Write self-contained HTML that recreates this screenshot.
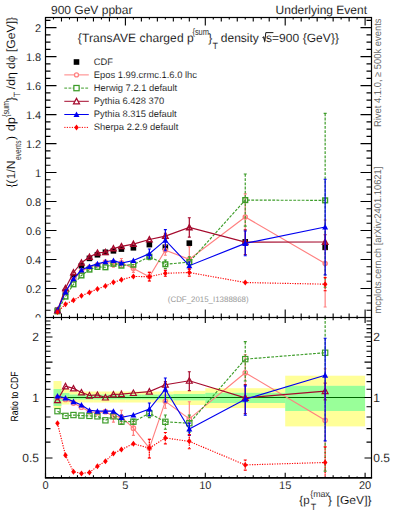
<!DOCTYPE html>
<html><head><meta charset="utf-8"><style>html,body{margin:0;padding:0;background:#fff;width:393px;height:512px;overflow:hidden}</style></head>
<body>
<svg width="393" height="512" viewBox="0 0 393 512" style="display:block" text-rendering="geometricPrecision">
<rect width="393" height="512" fill="#fff"/>
<defs><clipPath id="cm"><rect x="45.5" y="17.5" width="326.0" height="300.0"/></clipPath><clipPath id="c0"><rect x="0" y="0" width="45" height="317.5"/></clipPath><clipPath id="cr"><rect x="45.5" y="317.5" width="326.0" height="160.3"/></clipPath></defs>
<g clip-path="url(#cr)">
<line x1="45.5" y1="397.50" x2="371.5" y2="397.50" stroke="#000" stroke-width="1.0"/>
<rect x="53.49" y="381" width="7.99" height="8.00" fill="#ffff00" fill-opacity="0.4"/>
<rect x="53.49" y="406" width="7.99" height="2.00" fill="#ffff00" fill-opacity="0.4"/>
<rect x="53.49" y="389" width="7.99" height="17.00" fill="#00ff00" fill-opacity="0.4"/>
<rect x="61.48" y="389" width="7.99" height="4.00" fill="#ffff00" fill-opacity="0.4"/>
<rect x="61.48" y="401" width="7.99" height="3.50" fill="#ffff00" fill-opacity="0.4"/>
<rect x="61.48" y="393" width="7.99" height="8.00" fill="#00ff00" fill-opacity="0.4"/>
<rect x="69.47" y="391.5" width="7.99" height="3.00" fill="#ffff00" fill-opacity="0.4"/>
<rect x="69.47" y="399.5" width="7.99" height="3.00" fill="#ffff00" fill-opacity="0.4"/>
<rect x="69.47" y="394.5" width="7.99" height="5.00" fill="#00ff00" fill-opacity="0.4"/>
<rect x="77.46" y="391.5" width="7.99" height="3.00" fill="#ffff00" fill-opacity="0.4"/>
<rect x="77.46" y="399.5" width="7.99" height="3.00" fill="#ffff00" fill-opacity="0.4"/>
<rect x="77.46" y="394.5" width="7.99" height="5.00" fill="#00ff00" fill-opacity="0.4"/>
<rect x="85.45" y="391.5" width="7.99" height="3.00" fill="#ffff00" fill-opacity="0.4"/>
<rect x="85.45" y="399.5" width="7.99" height="3.00" fill="#ffff00" fill-opacity="0.4"/>
<rect x="85.45" y="394.5" width="7.99" height="5.00" fill="#00ff00" fill-opacity="0.4"/>
<rect x="93.44" y="391.5" width="7.99" height="3.00" fill="#ffff00" fill-opacity="0.4"/>
<rect x="93.44" y="399.5" width="7.99" height="3.00" fill="#ffff00" fill-opacity="0.4"/>
<rect x="93.44" y="394.5" width="7.99" height="5.00" fill="#00ff00" fill-opacity="0.4"/>
<rect x="101.43" y="391.5" width="7.99" height="3.00" fill="#ffff00" fill-opacity="0.4"/>
<rect x="101.43" y="399.5" width="7.99" height="3.00" fill="#ffff00" fill-opacity="0.4"/>
<rect x="101.43" y="394.5" width="7.99" height="5.00" fill="#00ff00" fill-opacity="0.4"/>
<rect x="109.42" y="391.5" width="7.99" height="3.00" fill="#ffff00" fill-opacity="0.4"/>
<rect x="109.42" y="399.5" width="7.99" height="3.00" fill="#ffff00" fill-opacity="0.4"/>
<rect x="109.42" y="394.5" width="7.99" height="5.00" fill="#00ff00" fill-opacity="0.4"/>
<rect x="117.41" y="391.5" width="7.99" height="3.00" fill="#ffff00" fill-opacity="0.4"/>
<rect x="117.41" y="399.5" width="7.99" height="3.00" fill="#ffff00" fill-opacity="0.4"/>
<rect x="117.41" y="394.5" width="7.99" height="5.00" fill="#00ff00" fill-opacity="0.4"/>
<rect x="125.40" y="391.5" width="15.98" height="3.00" fill="#ffff00" fill-opacity="0.4"/>
<rect x="125.40" y="399.5" width="15.98" height="3.00" fill="#ffff00" fill-opacity="0.4"/>
<rect x="125.40" y="394.5" width="15.98" height="5.00" fill="#00ff00" fill-opacity="0.4"/>
<rect x="141.38" y="391.5" width="15.98" height="3.00" fill="#ffff00" fill-opacity="0.4"/>
<rect x="141.38" y="399.5" width="15.98" height="3.00" fill="#ffff00" fill-opacity="0.4"/>
<rect x="141.38" y="394.5" width="15.98" height="5.00" fill="#00ff00" fill-opacity="0.4"/>
<rect x="157.36" y="391.5" width="15.98" height="3.00" fill="#ffff00" fill-opacity="0.4"/>
<rect x="157.36" y="399.5" width="15.98" height="3.00" fill="#ffff00" fill-opacity="0.4"/>
<rect x="157.36" y="394.5" width="15.98" height="5.00" fill="#00ff00" fill-opacity="0.4"/>
<rect x="173.34" y="390.8" width="31.96" height="3.20" fill="#ffff00" fill-opacity="0.4"/>
<rect x="173.34" y="400.4" width="31.96" height="4.60" fill="#ffff00" fill-opacity="0.4"/>
<rect x="173.34" y="394" width="31.96" height="6.40" fill="#00ff00" fill-opacity="0.4"/>
<rect x="205.30" y="388.2" width="79.90" height="4.60" fill="#ffff00" fill-opacity="0.4"/>
<rect x="205.30" y="403" width="79.90" height="5.10" fill="#ffff00" fill-opacity="0.4"/>
<rect x="205.30" y="392.8" width="79.90" height="10.20" fill="#00ff00" fill-opacity="0.4"/>
<rect x="285.20" y="375.7" width="79.90" height="10.10" fill="#ffff00" fill-opacity="0.4"/>
<rect x="285.20" y="411" width="79.90" height="15.40" fill="#ffff00" fill-opacity="0.4"/>
<rect x="285.20" y="385.8" width="79.90" height="25.20" fill="#00ff00" fill-opacity="0.4"/>
</g>
<g clip-path="url(#cm)">
<rect x="54.69" y="307.45" width="5.60" height="5.60" fill="#000"/>
<rect x="62.67" y="288.90" width="5.60" height="5.60" fill="#000"/>
<rect x="70.67" y="274.12" width="5.60" height="5.60" fill="#000"/>
<rect x="78.66" y="262.96" width="5.60" height="5.60" fill="#000"/>
<rect x="86.64" y="255.57" width="5.60" height="5.60" fill="#000"/>
<rect x="94.64" y="251.95" width="5.60" height="5.60" fill="#000"/>
<rect x="102.63" y="249.48" width="5.60" height="5.60" fill="#000"/>
<rect x="110.62" y="248.03" width="5.60" height="5.60" fill="#000"/>
<rect x="118.61" y="246.29" width="5.60" height="5.60" fill="#000"/>
<rect x="130.59" y="244.99" width="5.60" height="5.60" fill="#000"/>
<rect x="146.57" y="241.80" width="5.60" height="5.60" fill="#000"/>
<rect x="162.55" y="244.41" width="5.60" height="5.60" fill="#000"/>
<rect x="186.52" y="240.35" width="5.60" height="5.60" fill="#000"/>
<rect x="242.45" y="239.05" width="5.60" height="5.60" fill="#000"/>
<rect x="322.35" y="244.55" width="5.60" height="5.60" fill="#000"/>
<polyline points="57.48,310.25 65.47,292.30 73.47,279.44 81.45,271.19 89.44,267.30 97.44,264.79 105.43,262.06 113.42,263.77 121.41,262.77 133.39,268.42 149.37,276.68 165.35,250.23 189.32,259.28 245.25,217.03 325.15,263.49" fill="none" stroke="#ff8080" stroke-width="1.15"/>







<path d="M113.42,260.29V267.24" stroke="#ff8080" stroke-width="1.2" fill="none"/><path d="M111.92,260.29h3M111.92,267.24h3" stroke="#ff8080" stroke-width="1.1" fill="none"/>
<path d="M121.41,258.43V267.12" stroke="#ff8080" stroke-width="1.2" fill="none"/><path d="M119.91,258.43h3M119.91,267.12h3" stroke="#ff8080" stroke-width="1.1" fill="none"/>
<path d="M133.39,264.51V272.34" stroke="#ff8080" stroke-width="1.2" fill="none"/><path d="M131.89,264.51h3M131.89,272.34h3" stroke="#ff8080" stroke-width="1.1" fill="none"/>
<path d="M149.37,272.33V281.02" stroke="#ff8080" stroke-width="1.2" fill="none"/><path d="M147.87,272.33h3M147.87,281.02h3" stroke="#ff8080" stroke-width="1.1" fill="none"/>
<path d="M165.35,245.16V255.30" stroke="#ff8080" stroke-width="1.2" fill="none"/><path d="M163.85,245.16h3M163.85,255.30h3" stroke="#ff8080" stroke-width="1.1" fill="none"/>
<path d="M189.32,246.68V271.89" stroke="#ff8080" stroke-width="1.2" fill="none"/><path d="M187.82,246.68h3M187.82,271.89h3" stroke="#ff8080" stroke-width="1.1" fill="none"/>
<path d="M245.25,193.84V240.22" stroke="#ff8080" stroke-width="1.2" fill="none"/><path d="M243.75,193.84h3M243.75,240.22h3" stroke="#ff8080" stroke-width="1.1" fill="none"/>
<path d="M325.15,220.01V306.97" stroke="#ff8080" stroke-width="1.2" fill="none"/><path d="M323.65,220.01h3M323.65,306.97h3" stroke="#ff8080" stroke-width="1.1" fill="none"/>
<circle cx="57.48" cy="310.25" r="2.00" fill="none" stroke="#ff8080" stroke-width="1.50"/>
<circle cx="65.47" cy="292.30" r="2.00" fill="none" stroke="#ff8080" stroke-width="1.50"/>
<circle cx="73.47" cy="279.44" r="2.00" fill="none" stroke="#ff8080" stroke-width="1.50"/>
<circle cx="81.45" cy="271.19" r="2.00" fill="none" stroke="#ff8080" stroke-width="1.50"/>
<circle cx="89.44" cy="267.30" r="2.00" fill="none" stroke="#ff8080" stroke-width="1.50"/>
<circle cx="97.44" cy="264.79" r="2.00" fill="none" stroke="#ff8080" stroke-width="1.50"/>
<circle cx="105.43" cy="262.06" r="2.00" fill="none" stroke="#ff8080" stroke-width="1.50"/>
<circle cx="113.42" cy="263.77" r="2.00" fill="none" stroke="#ff8080" stroke-width="1.50"/>
<circle cx="121.41" cy="262.77" r="2.00" fill="none" stroke="#ff8080" stroke-width="1.50"/>
<circle cx="133.39" cy="268.42" r="2.00" fill="none" stroke="#ff8080" stroke-width="1.50"/>
<circle cx="149.37" cy="276.68" r="2.00" fill="none" stroke="#ff8080" stroke-width="1.50"/>
<circle cx="165.35" cy="250.23" r="2.00" fill="none" stroke="#ff8080" stroke-width="1.50"/>
<circle cx="189.32" cy="259.28" r="2.00" fill="none" stroke="#ff8080" stroke-width="1.50"/>
<circle cx="245.25" cy="217.03" r="2.00" fill="none" stroke="#ff8080" stroke-width="1.50"/>
<circle cx="325.15" cy="263.49" r="2.00" fill="none" stroke="#ff8080" stroke-width="1.50"/>
<polyline points="57.48,311.30 65.47,296.60 73.47,284.31 81.45,275.44 89.44,269.60 97.44,266.92 105.43,267.28 113.42,263.77 121.41,265.65 133.39,264.66 149.37,256.70 165.35,264.29 189.32,262.11 245.25,200.09 325.15,200.36" fill="none" stroke="#3c9c28" stroke-width="1.15" stroke-dasharray="2.8,1.4"/>










<path d="M149.37,253.80V259.60" stroke="#3c9c28" stroke-width="1.2" fill="none" stroke-dasharray="2.8,1.4"/><path d="M147.87,253.80h3M147.87,259.60h3" stroke="#3c9c28" stroke-width="1.1" fill="none"/>
<path d="M165.35,259.94V268.64" stroke="#3c9c28" stroke-width="1.2" fill="none" stroke-dasharray="2.8,1.4"/><path d="M163.85,259.94h3M163.85,268.64h3" stroke="#3c9c28" stroke-width="1.1" fill="none"/>
<path d="M189.32,256.75V267.47" stroke="#3c9c28" stroke-width="1.2" fill="none" stroke-dasharray="2.8,1.4"/><path d="M187.82,256.75h3M187.82,267.47h3" stroke="#3c9c28" stroke-width="1.1" fill="none"/>
<path d="M245.25,174.00V226.17" stroke="#3c9c28" stroke-width="1.2" fill="none" stroke-dasharray="2.8,1.4"/><path d="M243.75,174.00h3M243.75,226.17h3" stroke="#3c9c28" stroke-width="1.1" fill="none"/>
<path d="M325.15,113.40V287.31" stroke="#3c9c28" stroke-width="1.2" fill="none" stroke-dasharray="2.8,1.4"/><path d="M323.65,113.40h3M323.65,287.31h3" stroke="#3c9c28" stroke-width="1.1" fill="none"/>
<rect x="55.13" y="308.95" width="4.70" height="4.70" fill="none" stroke="#3c9c28" stroke-width="1.45"/>
<rect x="63.12" y="294.25" width="4.70" height="4.70" fill="none" stroke="#3c9c28" stroke-width="1.45"/>
<rect x="71.12" y="281.96" width="4.70" height="4.70" fill="none" stroke="#3c9c28" stroke-width="1.45"/>
<rect x="79.11" y="273.09" width="4.70" height="4.70" fill="none" stroke="#3c9c28" stroke-width="1.45"/>
<rect x="87.09" y="267.25" width="4.70" height="4.70" fill="none" stroke="#3c9c28" stroke-width="1.45"/>
<rect x="95.09" y="264.57" width="4.70" height="4.70" fill="none" stroke="#3c9c28" stroke-width="1.45"/>
<rect x="103.08" y="264.93" width="4.70" height="4.70" fill="none" stroke="#3c9c28" stroke-width="1.45"/>
<rect x="111.07" y="261.42" width="4.70" height="4.70" fill="none" stroke="#3c9c28" stroke-width="1.45"/>
<rect x="119.06" y="263.30" width="4.70" height="4.70" fill="none" stroke="#3c9c28" stroke-width="1.45"/>
<rect x="131.04" y="262.31" width="4.70" height="4.70" fill="none" stroke="#3c9c28" stroke-width="1.45"/>
<rect x="147.02" y="254.35" width="4.70" height="4.70" fill="none" stroke="#3c9c28" stroke-width="1.45"/>
<rect x="163.00" y="261.94" width="4.70" height="4.70" fill="none" stroke="#3c9c28" stroke-width="1.45"/>
<rect x="186.97" y="259.76" width="4.70" height="4.70" fill="none" stroke="#3c9c28" stroke-width="1.45"/>
<rect x="242.90" y="197.74" width="4.70" height="4.70" fill="none" stroke="#3c9c28" stroke-width="1.45"/>
<rect x="322.80" y="198.01" width="4.70" height="4.70" fill="none" stroke="#3c9c28" stroke-width="1.45"/>
<polyline points="57.48,310.47 65.47,288.17 73.47,272.46 81.45,262.66 89.44,257.01 97.44,252.86 105.43,252.28 113.42,248.43 121.41,246.36 133.39,244.09 149.37,239.50 165.35,236.10 189.32,227.39 245.25,242.15 325.15,242.02" fill="none" stroke="#a50a2d" stroke-width="1.15"/>











<path d="M165.35,233.20V239.00" stroke="#a50a2d" stroke-width="1.2" fill="none"/><path d="M163.85,233.20h3M163.85,239.00h3" stroke="#a50a2d" stroke-width="1.1" fill="none"/>
<path d="M189.32,217.68V237.10" stroke="#a50a2d" stroke-width="1.2" fill="none"/><path d="M187.82,217.68h3M187.82,237.10h3" stroke="#a50a2d" stroke-width="1.1" fill="none"/>
<path d="M245.25,229.83V254.47" stroke="#a50a2d" stroke-width="1.2" fill="none"/><path d="M243.75,229.83h3M243.75,254.47h3" stroke="#a50a2d" stroke-width="1.1" fill="none"/>
<path d="M325.15,234.78V249.27" stroke="#a50a2d" stroke-width="1.2" fill="none"/><path d="M323.65,234.78h3M323.65,249.27h3" stroke="#a50a2d" stroke-width="1.1" fill="none"/>
<path d="M57.48,307.82 L60.13,312.72 L54.84,312.72 Z" fill="none" stroke="#a50a2d" stroke-width="1.50"/>
<path d="M65.47,285.52 L68.12,290.42 L62.82,290.42 Z" fill="none" stroke="#a50a2d" stroke-width="1.50"/>
<path d="M73.47,269.81 L76.12,274.71 L70.81,274.71 Z" fill="none" stroke="#a50a2d" stroke-width="1.50"/>
<path d="M81.45,260.01 L84.11,264.91 L78.80,264.91 Z" fill="none" stroke="#a50a2d" stroke-width="1.50"/>
<path d="M89.44,254.36 L92.09,259.26 L86.79,259.26 Z" fill="none" stroke="#a50a2d" stroke-width="1.50"/>
<path d="M97.44,250.21 L100.09,255.12 L94.78,255.12 Z" fill="none" stroke="#a50a2d" stroke-width="1.50"/>
<path d="M105.43,249.63 L108.08,254.53 L102.78,254.53 Z" fill="none" stroke="#a50a2d" stroke-width="1.50"/>
<path d="M113.42,245.78 L116.07,250.68 L110.77,250.68 Z" fill="none" stroke="#a50a2d" stroke-width="1.50"/>
<path d="M121.41,243.71 L124.06,248.61 L118.75,248.61 Z" fill="none" stroke="#a50a2d" stroke-width="1.50"/>
<path d="M133.39,241.44 L136.04,246.35 L130.74,246.35 Z" fill="none" stroke="#a50a2d" stroke-width="1.50"/>
<path d="M149.37,236.85 L152.02,241.75 L146.72,241.75 Z" fill="none" stroke="#a50a2d" stroke-width="1.50"/>
<path d="M165.35,233.45 L168.00,238.36 L162.70,238.36 Z" fill="none" stroke="#a50a2d" stroke-width="1.50"/>
<path d="M189.32,224.74 L191.97,229.64 L186.67,229.64 Z" fill="none" stroke="#a50a2d" stroke-width="1.50"/>
<path d="M245.25,239.50 L247.90,244.40 L242.60,244.40 Z" fill="none" stroke="#a50a2d" stroke-width="1.50"/>
<path d="M325.15,239.37 L327.80,244.28 L322.50,244.28 Z" fill="none" stroke="#a50a2d" stroke-width="1.50"/>
<polyline points="57.48,310.13 65.47,291.83 73.47,278.79 81.45,270.05 89.44,266.41 97.44,263.84 105.43,261.74 113.42,260.50 121.41,263.05 133.39,260.48 149.37,253.64 165.35,240.18 189.32,265.68 245.25,243.36 325.15,227.01" fill="none" stroke="#0000f0" stroke-width="1.15"/>










<path d="M149.37,249.00V258.28" stroke="#0000f0" stroke-width="1.2" fill="none"/><path d="M147.87,249.00h3M147.87,258.28h3" stroke="#0000f0" stroke-width="1.1" fill="none"/>
<path d="M165.35,229.60V250.76" stroke="#0000f0" stroke-width="1.2" fill="none"/><path d="M163.85,229.60h3M163.85,250.76h3" stroke="#0000f0" stroke-width="1.1" fill="none"/>
<path d="M189.32,262.06V269.30" stroke="#0000f0" stroke-width="1.2" fill="none"/><path d="M187.82,262.06h3M187.82,269.30h3" stroke="#0000f0" stroke-width="1.1" fill="none"/>
<path d="M245.25,231.04V255.68" stroke="#0000f0" stroke-width="1.2" fill="none"/><path d="M243.75,231.04h3M243.75,255.68h3" stroke="#0000f0" stroke-width="1.1" fill="none"/>
<path d="M325.15,179.18V274.84" stroke="#0000f0" stroke-width="1.2" fill="none"/><path d="M323.65,179.18h3M323.65,274.84h3" stroke="#0000f0" stroke-width="1.1" fill="none"/>
<path d="M57.48,307.13 L60.48,312.68 L54.48,312.68 Z" fill="#0000f0"/>
<path d="M65.47,288.83 L68.47,294.38 L62.47,294.38 Z" fill="#0000f0"/>
<path d="M73.47,275.79 L76.47,281.34 L70.47,281.34 Z" fill="#0000f0"/>
<path d="M81.45,267.05 L84.45,272.60 L78.45,272.60 Z" fill="#0000f0"/>
<path d="M89.44,263.41 L92.44,268.96 L86.44,268.96 Z" fill="#0000f0"/>
<path d="M97.44,260.84 L100.44,266.39 L94.44,266.39 Z" fill="#0000f0"/>
<path d="M105.43,258.74 L108.43,264.29 L102.43,264.29 Z" fill="#0000f0"/>
<path d="M113.42,257.50 L116.42,263.05 L110.42,263.05 Z" fill="#0000f0"/>
<path d="M121.41,260.05 L124.41,265.60 L118.41,265.60 Z" fill="#0000f0"/>
<path d="M133.39,257.48 L136.39,263.03 L130.39,263.03 Z" fill="#0000f0"/>
<path d="M149.37,250.64 L152.37,256.19 L146.37,256.19 Z" fill="#0000f0"/>
<path d="M165.35,237.18 L168.35,242.73 L162.35,242.73 Z" fill="#0000f0"/>
<path d="M189.32,262.68 L192.32,268.23 L186.32,268.23 Z" fill="#0000f0"/>
<path d="M245.25,240.36 L248.25,245.91 L242.25,245.91 Z" fill="#0000f0"/>
<path d="M325.15,224.01 L328.15,229.56 L322.15,229.56 Z" fill="#0000f0"/>
<polyline points="57.48,312.11 65.47,304.19 73.47,300.17 81.45,295.82 89.44,292.43 97.44,288.95 105.43,286.06 113.42,282.37 121.41,279.81 133.39,276.44 149.37,276.68 165.35,273.29 189.32,272.52 245.25,282.55 325.15,284.18" fill="none" stroke="#ff0000" stroke-width="1.15" stroke-dasharray="1.2,1.3"/>










<path d="M149.37,272.33V281.02" stroke="#ff0000" stroke-width="1.2" fill="none" stroke-dasharray="1.2,1.3"/><path d="M147.87,272.33h3M147.87,281.02h3" stroke="#ff0000" stroke-width="1.1" fill="none"/>
<path d="M165.35,270.39V276.19" stroke="#ff0000" stroke-width="1.2" fill="none" stroke-dasharray="1.2,1.3"/><path d="M163.85,270.39h3M163.85,276.19h3" stroke="#ff0000" stroke-width="1.1" fill="none"/>
<path d="M189.32,268.90V276.14" stroke="#ff0000" stroke-width="1.2" fill="none" stroke-dasharray="1.2,1.3"/><path d="M187.82,268.90h3M187.82,276.14h3" stroke="#ff0000" stroke-width="1.1" fill="none"/>

<path d="M325.15,277.66V290.70" stroke="#ff0000" stroke-width="1.2" fill="none" stroke-dasharray="1.2,1.3"/><path d="M323.65,277.66h3M323.65,290.70h3" stroke="#ff0000" stroke-width="1.1" fill="none"/>
<path d="M57.48,309.11 L59.78,312.11 L57.48,315.11 L55.19,312.11 Z" fill="#ff0000"/>
<path d="M65.47,301.19 L67.77,304.19 L65.47,307.19 L63.17,304.19 Z" fill="#ff0000"/>
<path d="M73.47,297.17 L75.77,300.17 L73.47,303.17 L71.17,300.17 Z" fill="#ff0000"/>
<path d="M81.45,292.82 L83.75,295.82 L81.45,298.82 L79.16,295.82 Z" fill="#ff0000"/>
<path d="M89.44,289.43 L91.74,292.43 L89.44,295.43 L87.14,292.43 Z" fill="#ff0000"/>
<path d="M97.44,285.95 L99.73,288.95 L97.44,291.95 L95.14,288.95 Z" fill="#ff0000"/>
<path d="M105.43,283.06 L107.73,286.06 L105.43,289.06 L103.13,286.06 Z" fill="#ff0000"/>
<path d="M113.42,279.37 L115.72,282.37 L113.42,285.37 L111.12,282.37 Z" fill="#ff0000"/>
<path d="M121.41,276.81 L123.70,279.81 L121.41,282.81 L119.11,279.81 Z" fill="#ff0000"/>
<path d="M133.39,273.44 L135.69,276.44 L133.39,279.44 L131.09,276.44 Z" fill="#ff0000"/>
<path d="M149.37,273.68 L151.67,276.68 L149.37,279.68 L147.07,276.68 Z" fill="#ff0000"/>
<path d="M165.35,270.29 L167.65,273.29 L165.35,276.29 L163.05,273.29 Z" fill="#ff0000"/>
<path d="M189.32,269.52 L191.62,272.52 L189.32,275.52 L187.02,272.52 Z" fill="#ff0000"/>
<path d="M245.25,279.55 L247.55,282.55 L245.25,285.55 L242.95,282.55 Z" fill="#ff0000"/>
<path d="M325.15,281.18 L327.45,284.18 L325.15,287.18 L322.85,284.18 Z" fill="#ff0000"/>
</g>
<g clip-path="url(#cr)">
<polyline points="57.48,397.50 65.47,399.53 73.47,403.09 81.45,407.18 89.44,411.79 97.44,412.72 105.43,411.69 113.42,416.33 121.41,416.98 133.39,428.14 149.37,448.12 165.35,401.34 189.32,418.85 245.25,372.74 325.15,420.32" fill="none" stroke="#ff8080" stroke-width="1.15"/>







<path d="M113.42,410.85V422.17" stroke="#ff8080" stroke-width="1.2" fill="none"/><path d="M111.92,410.85h3M111.92,422.17h3" stroke="#ff8080" stroke-width="1.1" fill="none"/>
<path d="M121.41,410.31V424.21" stroke="#ff8080" stroke-width="1.2" fill="none"/><path d="M119.91,410.31h3M119.91,424.21h3" stroke="#ff8080" stroke-width="1.1" fill="none"/>
<path d="M133.39,421.44V435.39" stroke="#ff8080" stroke-width="1.2" fill="none"/><path d="M131.89,421.44h3M131.89,435.39h3" stroke="#ff8080" stroke-width="1.1" fill="none"/>
<path d="M149.37,439.28V457.95" stroke="#ff8080" stroke-width="1.2" fill="none"/><path d="M147.87,439.28h3M147.87,457.95h3" stroke="#ff8080" stroke-width="1.1" fill="none"/>
<path d="M165.35,394.99V408.18" stroke="#ff8080" stroke-width="1.2" fill="none"/><path d="M163.85,394.99h3M163.85,408.18h3" stroke="#ff8080" stroke-width="1.1" fill="none"/>
<path d="M189.32,401.74V440.16" stroke="#ff8080" stroke-width="1.2" fill="none"/><path d="M187.82,401.74h3M187.82,440.16h3" stroke="#ff8080" stroke-width="1.1" fill="none"/>
<path d="M245.25,354.61V395.64" stroke="#ff8080" stroke-width="1.2" fill="none"/><path d="M243.75,354.61h3M243.75,395.64h3" stroke="#ff8080" stroke-width="1.1" fill="none"/>
<path d="M325.15,368.76V563.02" stroke="#ff8080" stroke-width="1.2" fill="none"/><path d="M323.65,368.76h3M323.65,563.02h3" stroke="#ff8080" stroke-width="1.1" fill="none"/>
<circle cx="57.48" cy="397.50" r="2.24" fill="none" stroke="#ff8080" stroke-width="1.20"/>
<circle cx="65.47" cy="399.53" r="2.24" fill="none" stroke="#ff8080" stroke-width="1.20"/>
<circle cx="73.47" cy="403.09" r="2.24" fill="none" stroke="#ff8080" stroke-width="1.20"/>
<circle cx="81.45" cy="407.18" r="2.24" fill="none" stroke="#ff8080" stroke-width="1.20"/>
<circle cx="89.44" cy="411.79" r="2.24" fill="none" stroke="#ff8080" stroke-width="1.20"/>
<circle cx="97.44" cy="412.72" r="2.24" fill="none" stroke="#ff8080" stroke-width="1.20"/>
<circle cx="105.43" cy="411.69" r="2.24" fill="none" stroke="#ff8080" stroke-width="1.20"/>
<circle cx="113.42" cy="416.33" r="2.24" fill="none" stroke="#ff8080" stroke-width="1.20"/>
<circle cx="121.41" cy="416.98" r="2.24" fill="none" stroke="#ff8080" stroke-width="1.20"/>
<circle cx="133.39" cy="428.14" r="2.24" fill="none" stroke="#ff8080" stroke-width="1.20"/>
<circle cx="149.37" cy="448.12" r="2.24" fill="none" stroke="#ff8080" stroke-width="1.20"/>
<circle cx="165.35" cy="401.34" r="2.24" fill="none" stroke="#ff8080" stroke-width="1.20"/>
<circle cx="189.32" cy="418.85" r="2.24" fill="none" stroke="#ff8080" stroke-width="1.20"/>
<circle cx="245.25" cy="372.74" r="2.24" fill="none" stroke="#ff8080" stroke-width="1.20"/>
<circle cx="325.15" cy="420.32" r="2.24" fill="none" stroke="#ff8080" stroke-width="1.20"/>
<polyline points="57.48,411.18 65.47,415.90 73.47,415.04 81.45,415.57 89.44,415.90 97.44,416.33 105.43,420.32 113.42,416.33 121.41,421.69 133.39,421.69 149.37,413.35 165.35,421.80 189.32,423.20 245.25,359.13 325.15,352.73" fill="none" stroke="#3c9c28" stroke-width="1.15" stroke-dasharray="2.8,1.4"/>








<path d="M121.41,419.28V424.16" stroke="#3c9c28" stroke-width="1.2" fill="none" stroke-dasharray="2.8,1.4"/><path d="M119.91,419.28h3M119.91,424.16h3" stroke="#3c9c28" stroke-width="1.1" fill="none"/>
<path d="M133.39,419.33V424.12" stroke="#3c9c28" stroke-width="1.2" fill="none" stroke-dasharray="2.8,1.4"/><path d="M131.89,419.33h3M131.89,424.12h3" stroke="#3c9c28" stroke-width="1.1" fill="none"/>
<path d="M149.37,409.28V417.61" stroke="#3c9c28" stroke-width="1.2" fill="none" stroke-dasharray="2.8,1.4"/><path d="M147.87,409.28h3M147.87,417.61h3" stroke="#3c9c28" stroke-width="1.1" fill="none"/>
<path d="M165.35,414.95V429.24" stroke="#3c9c28" stroke-width="1.2" fill="none" stroke-dasharray="2.8,1.4"/><path d="M163.85,414.95h3M163.85,429.24h3" stroke="#3c9c28" stroke-width="1.1" fill="none"/>
<path d="M189.32,415.13V432.09" stroke="#3c9c28" stroke-width="1.2" fill="none" stroke-dasharray="2.8,1.4"/><path d="M187.82,415.13h3M187.82,432.09h3" stroke="#3c9c28" stroke-width="1.1" fill="none"/>
<path d="M245.25,341.61V381.06" stroke="#3c9c28" stroke-width="1.2" fill="none" stroke-dasharray="2.8,1.4"/><path d="M243.75,341.61h3M243.75,381.06h3" stroke="#3c9c28" stroke-width="1.1" fill="none"/>
<path d="M325.15,304.26V471.11" stroke="#3c9c28" stroke-width="1.2" fill="none" stroke-dasharray="2.8,1.4"/><path d="M323.65,304.26h3M323.65,471.11h3" stroke="#3c9c28" stroke-width="1.1" fill="none"/>
<rect x="54.85" y="408.54" width="5.26" height="5.26" fill="none" stroke="#3c9c28" stroke-width="1.16"/>
<rect x="62.84" y="413.26" width="5.26" height="5.26" fill="none" stroke="#3c9c28" stroke-width="1.16"/>
<rect x="70.83" y="412.41" width="5.26" height="5.26" fill="none" stroke="#3c9c28" stroke-width="1.16"/>
<rect x="78.82" y="412.94" width="5.26" height="5.26" fill="none" stroke="#3c9c28" stroke-width="1.16"/>
<rect x="86.81" y="413.26" width="5.26" height="5.26" fill="none" stroke="#3c9c28" stroke-width="1.16"/>
<rect x="94.80" y="413.70" width="5.26" height="5.26" fill="none" stroke="#3c9c28" stroke-width="1.16"/>
<rect x="102.79" y="417.68" width="5.26" height="5.26" fill="none" stroke="#3c9c28" stroke-width="1.16"/>
<rect x="110.78" y="413.70" width="5.26" height="5.26" fill="none" stroke="#3c9c28" stroke-width="1.16"/>
<rect x="118.77" y="419.06" width="5.26" height="5.26" fill="none" stroke="#3c9c28" stroke-width="1.16"/>
<rect x="130.76" y="419.06" width="5.26" height="5.26" fill="none" stroke="#3c9c28" stroke-width="1.16"/>
<rect x="146.74" y="410.71" width="5.26" height="5.26" fill="none" stroke="#3c9c28" stroke-width="1.16"/>
<rect x="162.72" y="419.17" width="5.26" height="5.26" fill="none" stroke="#3c9c28" stroke-width="1.16"/>
<rect x="186.69" y="420.57" width="5.26" height="5.26" fill="none" stroke="#3c9c28" stroke-width="1.16"/>
<rect x="242.62" y="356.50" width="5.26" height="5.26" fill="none" stroke="#3c9c28" stroke-width="1.16"/>
<rect x="322.52" y="350.10" width="5.26" height="5.26" fill="none" stroke="#3c9c28" stroke-width="1.16"/>
<polyline points="57.48,400.16 65.47,386.29 73.47,388.39 81.45,392.41 89.44,395.51 97.44,394.92 105.43,397.50 113.42,394.41 121.41,394.08 133.39,392.99 149.37,391.59 165.35,384.69 189.32,380.72 245.25,397.85 325.15,391.11" fill="none" stroke="#a50a2d" stroke-width="1.15"/>











<path d="M165.35,381.64V387.86" stroke="#a50a2d" stroke-width="1.2" fill="none"/><path d="M163.85,381.64h3M163.85,387.86h3" stroke="#a50a2d" stroke-width="1.1" fill="none"/>
<path d="M189.32,371.78V390.67" stroke="#a50a2d" stroke-width="1.2" fill="none"/><path d="M187.82,371.78h3M187.82,390.67h3" stroke="#a50a2d" stroke-width="1.1" fill="none"/>
<path d="M245.25,384.63V413.43" stroke="#a50a2d" stroke-width="1.2" fill="none"/><path d="M243.75,384.63h3M243.75,413.43h3" stroke="#a50a2d" stroke-width="1.1" fill="none"/>
<path d="M325.15,383.10V399.92" stroke="#a50a2d" stroke-width="1.2" fill="none"/><path d="M323.65,383.10h3M323.65,399.92h3" stroke="#a50a2d" stroke-width="1.1" fill="none"/>
<path d="M57.48,397.19 L60.45,402.68 L54.52,402.68 Z" fill="none" stroke="#a50a2d" stroke-width="1.20"/>
<path d="M65.47,383.32 L68.44,388.81 L62.51,388.81 Z" fill="none" stroke="#a50a2d" stroke-width="1.20"/>
<path d="M73.47,385.42 L76.43,390.91 L70.50,390.91 Z" fill="none" stroke="#a50a2d" stroke-width="1.20"/>
<path d="M81.45,389.45 L84.42,394.94 L78.49,394.94 Z" fill="none" stroke="#a50a2d" stroke-width="1.20"/>
<path d="M89.44,392.55 L92.41,398.04 L86.48,398.04 Z" fill="none" stroke="#a50a2d" stroke-width="1.20"/>
<path d="M97.44,391.95 L100.40,397.44 L94.47,397.44 Z" fill="none" stroke="#a50a2d" stroke-width="1.20"/>
<path d="M105.43,394.53 L108.39,400.02 L102.46,400.02 Z" fill="none" stroke="#a50a2d" stroke-width="1.20"/>
<path d="M113.42,391.44 L116.38,396.94 L110.45,396.94 Z" fill="none" stroke="#a50a2d" stroke-width="1.20"/>
<path d="M121.41,391.11 L124.37,396.60 L118.44,396.60 Z" fill="none" stroke="#a50a2d" stroke-width="1.20"/>
<path d="M133.39,390.02 L136.36,395.51 L130.42,395.51 Z" fill="none" stroke="#a50a2d" stroke-width="1.20"/>
<path d="M149.37,388.63 L152.34,394.12 L146.40,394.12 Z" fill="none" stroke="#a50a2d" stroke-width="1.20"/>
<path d="M165.35,381.73 L168.32,387.22 L162.38,387.22 Z" fill="none" stroke="#a50a2d" stroke-width="1.20"/>
<path d="M189.32,377.75 L192.29,383.24 L186.35,383.24 Z" fill="none" stroke="#a50a2d" stroke-width="1.20"/>
<path d="M245.25,394.88 L248.22,400.37 L242.28,400.37 Z" fill="none" stroke="#a50a2d" stroke-width="1.20"/>
<path d="M325.15,388.14 L328.12,393.63 L322.18,393.63 Z" fill="none" stroke="#a50a2d" stroke-width="1.20"/>
<polyline points="57.48,396.03 65.47,397.94 73.47,401.61 81.45,405.06 89.44,410.26 97.44,411.18 105.43,411.18 113.42,411.18 121.41,417.42 133.39,415.04 149.37,409.06 165.35,389.18 189.32,429.01 245.25,399.26 325.15,375.27" fill="none" stroke="#0000f0" stroke-width="1.15"/>








<path d="M121.41,415.12V419.77" stroke="#0000f0" stroke-width="1.2" fill="none"/><path d="M119.91,415.12h3M119.91,419.77h3" stroke="#0000f0" stroke-width="1.1" fill="none"/>

<path d="M149.37,402.94V415.64" stroke="#0000f0" stroke-width="1.2" fill="none"/><path d="M147.87,402.94h3M147.87,415.64h3" stroke="#0000f0" stroke-width="1.1" fill="none"/>
<path d="M165.35,377.98V402.03" stroke="#0000f0" stroke-width="1.2" fill="none"/><path d="M163.85,377.98h3M163.85,402.03h3" stroke="#0000f0" stroke-width="1.1" fill="none"/>
<path d="M189.32,423.11V435.34" stroke="#0000f0" stroke-width="1.2" fill="none"/><path d="M187.82,423.11h3M187.82,435.34h3" stroke="#0000f0" stroke-width="1.1" fill="none"/>
<path d="M245.25,385.84V415.13" stroke="#0000f0" stroke-width="1.2" fill="none"/><path d="M243.75,385.84h3M243.75,415.13h3" stroke="#0000f0" stroke-width="1.1" fill="none"/>
<path d="M325.15,338.23V440.91" stroke="#0000f0" stroke-width="1.2" fill="none"/><path d="M323.65,338.23h3M323.65,440.91h3" stroke="#0000f0" stroke-width="1.1" fill="none"/>
<path d="M57.48,393.03 L60.48,398.58 L54.48,398.58 Z" fill="#0000f0"/>
<path d="M65.47,394.94 L68.47,400.49 L62.47,400.49 Z" fill="#0000f0"/>
<path d="M73.47,398.61 L76.47,404.16 L70.47,404.16 Z" fill="#0000f0"/>
<path d="M81.45,402.06 L84.45,407.61 L78.45,407.61 Z" fill="#0000f0"/>
<path d="M89.44,407.26 L92.44,412.81 L86.44,412.81 Z" fill="#0000f0"/>
<path d="M97.44,408.18 L100.44,413.73 L94.44,413.73 Z" fill="#0000f0"/>
<path d="M105.43,408.18 L108.43,413.73 L102.43,413.73 Z" fill="#0000f0"/>
<path d="M113.42,408.18 L116.42,413.73 L110.42,413.73 Z" fill="#0000f0"/>
<path d="M121.41,414.42 L124.41,419.97 L118.41,419.97 Z" fill="#0000f0"/>
<path d="M133.39,412.04 L136.39,417.59 L130.39,417.59 Z" fill="#0000f0"/>
<path d="M149.37,406.06 L152.37,411.61 L146.37,411.61 Z" fill="#0000f0"/>
<path d="M165.35,386.18 L168.35,391.73 L162.35,391.73 Z" fill="#0000f0"/>
<path d="M189.32,426.01 L192.32,431.56 L186.32,431.56 Z" fill="#0000f0"/>
<path d="M245.25,396.26 L248.25,401.81 L242.25,401.81 Z" fill="#0000f0"/>
<path d="M325.15,372.27 L328.15,377.82 L322.15,377.82 Z" fill="#0000f0"/>
<polyline points="57.48,423.32 65.47,455.26 73.47,471.79 81.45,473.44 89.44,472.40 97.44,466.24 105.43,461.21 113.42,453.42 121.41,449.53 133.39,443.71 149.37,448.12 165.35,437.97 189.32,441.37 245.25,464.91 325.15,462.49" fill="none" stroke="#ff0000" stroke-width="1.15" stroke-dasharray="1.2,1.3"/>










<path d="M149.37,439.28V457.95" stroke="#ff0000" stroke-width="1.2" fill="none" stroke-dasharray="1.2,1.3"/><path d="M147.87,439.28h3M147.87,457.95h3" stroke="#ff0000" stroke-width="1.1" fill="none"/>
<path d="M165.35,432.43V443.89" stroke="#ff0000" stroke-width="1.2" fill="none" stroke-dasharray="1.2,1.3"/><path d="M163.85,432.43h3M163.85,443.89h3" stroke="#ff0000" stroke-width="1.1" fill="none"/>
<path d="M189.32,434.61V448.70" stroke="#ff0000" stroke-width="1.2" fill="none" stroke-dasharray="1.2,1.3"/><path d="M187.82,434.61h3M187.82,448.70h3" stroke="#ff0000" stroke-width="1.1" fill="none"/>
<path d="M245.25,459.98V470.13" stroke="#ff0000" stroke-width="1.2" fill="none" stroke-dasharray="1.2,1.3"/><path d="M243.75,459.98h3M243.75,470.13h3" stroke="#ff0000" stroke-width="1.1" fill="none"/>
<path d="M325.15,446.88V481.50" stroke="#ff0000" stroke-width="1.2" fill="none" stroke-dasharray="1.2,1.3"/><path d="M323.65,446.88h3M323.65,481.50h3" stroke="#ff0000" stroke-width="1.1" fill="none"/>
<path d="M57.48,420.32 L59.78,423.32 L57.48,426.32 L55.19,423.32 Z" fill="#ff0000"/>
<path d="M65.47,452.26 L67.77,455.26 L65.47,458.26 L63.17,455.26 Z" fill="#ff0000"/>
<path d="M73.47,468.79 L75.77,471.79 L73.47,474.79 L71.17,471.79 Z" fill="#ff0000"/>
<path d="M81.45,470.44 L83.75,473.44 L81.45,476.44 L79.16,473.44 Z" fill="#ff0000"/>
<path d="M89.44,469.40 L91.74,472.40 L89.44,475.40 L87.14,472.40 Z" fill="#ff0000"/>
<path d="M97.44,463.24 L99.73,466.24 L97.44,469.24 L95.14,466.24 Z" fill="#ff0000"/>
<path d="M105.43,458.21 L107.73,461.21 L105.43,464.21 L103.13,461.21 Z" fill="#ff0000"/>
<path d="M113.42,450.42 L115.72,453.42 L113.42,456.42 L111.12,453.42 Z" fill="#ff0000"/>
<path d="M121.41,446.53 L123.70,449.53 L121.41,452.53 L119.11,449.53 Z" fill="#ff0000"/>
<path d="M133.39,440.71 L135.69,443.71 L133.39,446.71 L131.09,443.71 Z" fill="#ff0000"/>
<path d="M149.37,445.12 L151.67,448.12 L149.37,451.12 L147.07,448.12 Z" fill="#ff0000"/>
<path d="M165.35,434.97 L167.65,437.97 L165.35,440.97 L163.05,437.97 Z" fill="#ff0000"/>
<path d="M189.32,438.37 L191.62,441.37 L189.32,444.37 L187.02,441.37 Z" fill="#ff0000"/>
<path d="M245.25,461.91 L247.55,464.91 L245.25,467.91 L242.95,464.91 Z" fill="#ff0000"/>
<path d="M325.15,459.49 L327.45,462.49 L325.15,465.49 L322.85,462.49 Z" fill="#ff0000"/>
</g>
<g stroke="#000" fill="none">
<rect x="45.5" y="17.5" width="326.0" height="300.0" stroke-width="1.2"/>
<line x1="45.5" y1="317.5" x2="45.5" y2="477.8" stroke-width="1.2"/>
<line x1="371.5" y1="317.5" x2="371.5" y2="477.8" stroke-width="1.2"/>
<line x1="44.9" y1="477.8" x2="372.1" y2="477.8" stroke-width="1.8"/>
<path d="M45.50,17.5v8M45.50,317.5v-8M45.50,317.5v5.6M45.50,477.8v-5M53.49,17.5v2M53.49,317.5v-2M53.49,317.5v1.4M53.49,477.8v-1.2M61.48,17.5v4M61.48,317.5v-4M61.48,317.5v2.8M61.48,477.8v-2.5M69.47,17.5v2M69.47,317.5v-2M69.47,317.5v1.4M69.47,477.8v-1.2M77.46,17.5v4M77.46,317.5v-4M77.46,317.5v2.8M77.46,477.8v-2.5M85.45,17.5v2M85.45,317.5v-2M85.45,317.5v1.4M85.45,477.8v-1.2M93.44,17.5v4M93.44,317.5v-4M93.44,317.5v2.8M93.44,477.8v-2.5M101.43,17.5v2M101.43,317.5v-2M101.43,317.5v1.4M101.43,477.8v-1.2M109.42,17.5v4M109.42,317.5v-4M109.42,317.5v2.8M109.42,477.8v-2.5M117.41,17.5v2M117.41,317.5v-2M117.41,317.5v1.4M117.41,477.8v-1.2M125.40,17.5v8M125.40,317.5v-8M125.40,317.5v5.6M125.40,477.8v-5M133.39,17.5v2M133.39,317.5v-2M133.39,317.5v1.4M133.39,477.8v-1.2M141.38,17.5v4M141.38,317.5v-4M141.38,317.5v2.8M141.38,477.8v-2.5M149.37,17.5v2M149.37,317.5v-2M149.37,317.5v1.4M149.37,477.8v-1.2M157.36,17.5v4M157.36,317.5v-4M157.36,317.5v2.8M157.36,477.8v-2.5M165.35,17.5v2M165.35,317.5v-2M165.35,317.5v1.4M165.35,477.8v-1.2M173.34,17.5v4M173.34,317.5v-4M173.34,317.5v2.8M173.34,477.8v-2.5M181.33,17.5v2M181.33,317.5v-2M181.33,317.5v1.4M181.33,477.8v-1.2M189.32,17.5v4M189.32,317.5v-4M189.32,317.5v2.8M189.32,477.8v-2.5M197.31,17.5v2M197.31,317.5v-2M197.31,317.5v1.4M197.31,477.8v-1.2M205.30,17.5v8M205.30,317.5v-8M205.30,317.5v5.6M205.30,477.8v-5M213.29,17.5v2M213.29,317.5v-2M213.29,317.5v1.4M213.29,477.8v-1.2M221.28,17.5v4M221.28,317.5v-4M221.28,317.5v2.8M221.28,477.8v-2.5M229.27,17.5v2M229.27,317.5v-2M229.27,317.5v1.4M229.27,477.8v-1.2M237.26,17.5v4M237.26,317.5v-4M237.26,317.5v2.8M237.26,477.8v-2.5M245.25,17.5v2M245.25,317.5v-2M245.25,317.5v1.4M245.25,477.8v-1.2M253.24,17.5v4M253.24,317.5v-4M253.24,317.5v2.8M253.24,477.8v-2.5M261.23,17.5v2M261.23,317.5v-2M261.23,317.5v1.4M261.23,477.8v-1.2M269.22,17.5v4M269.22,317.5v-4M269.22,317.5v2.8M269.22,477.8v-2.5M277.21,17.5v2M277.21,317.5v-2M277.21,317.5v1.4M277.21,477.8v-1.2M285.20,17.5v8M285.20,317.5v-8M285.20,317.5v5.6M285.20,477.8v-5M293.19,17.5v2M293.19,317.5v-2M293.19,317.5v1.4M293.19,477.8v-1.2M301.18,17.5v4M301.18,317.5v-4M301.18,317.5v2.8M301.18,477.8v-2.5M309.17,17.5v2M309.17,317.5v-2M309.17,317.5v1.4M309.17,477.8v-1.2M317.16,17.5v4M317.16,317.5v-4M317.16,317.5v2.8M317.16,477.8v-2.5M325.15,17.5v2M325.15,317.5v-2M325.15,317.5v1.4M325.15,477.8v-1.2M333.14,17.5v4M333.14,317.5v-4M333.14,317.5v2.8M333.14,477.8v-2.5M341.13,17.5v2M341.13,317.5v-2M341.13,317.5v1.4M341.13,477.8v-1.2M349.12,17.5v4M349.12,317.5v-4M349.12,317.5v2.8M349.12,477.8v-2.5M357.11,17.5v2M357.11,317.5v-2M357.11,317.5v1.4M357.11,477.8v-1.2M365.10,17.5v8M365.10,317.5v-8M365.10,317.5v5.6M365.10,477.8v-5" stroke-width="1.1"/>
<path d="M45.5,317.50h11M371.5,317.50h-11M45.5,310.25h5M371.5,310.25h-5M45.5,303.01h5M371.5,303.01h-5M45.5,295.76h5M371.5,295.76h-5M45.5,288.51h11M371.5,288.51h-11M45.5,281.27h5M371.5,281.27h-5M45.5,274.02h5M371.5,274.02h-5M45.5,266.77h5M371.5,266.77h-5M45.5,259.53h11M371.5,259.53h-11M45.5,252.28h5M371.5,252.28h-5M45.5,245.03h5M371.5,245.03h-5M45.5,237.79h5M371.5,237.79h-5M45.5,230.54h11M371.5,230.54h-11M45.5,223.30h5M371.5,223.30h-5M45.5,216.05h5M371.5,216.05h-5M45.5,208.80h5M371.5,208.80h-5M45.5,201.56h11M371.5,201.56h-11M45.5,194.31h5M371.5,194.31h-5M45.5,187.06h5M371.5,187.06h-5M45.5,179.82h5M371.5,179.82h-5M45.5,172.57h11M371.5,172.57h-11M45.5,165.32h5M371.5,165.32h-5M45.5,158.08h5M371.5,158.08h-5M45.5,150.83h5M371.5,150.83h-5M45.5,143.58h11M371.5,143.58h-11M45.5,136.34h5M371.5,136.34h-5M45.5,129.09h5M371.5,129.09h-5M45.5,121.84h5M371.5,121.84h-5M45.5,114.60h11M371.5,114.60h-11M45.5,107.35h5M371.5,107.35h-5M45.5,100.10h5M371.5,100.10h-5M45.5,92.86h5M371.5,92.86h-5M45.5,85.61h11M371.5,85.61h-11M45.5,78.37h5M371.5,78.37h-5M45.5,71.12h5M371.5,71.12h-5M45.5,63.87h5M371.5,63.87h-5M45.5,56.63h11M371.5,56.63h-11M45.5,49.38h5M371.5,49.38h-5M45.5,42.13h5M371.5,42.13h-5M45.5,34.89h5M371.5,34.89h-5M45.5,27.64h11M371.5,27.64h-11M45.5,20.39h5M371.5,20.39h-5" stroke-width="1.1"/>
<path d="M45.5,458.01h7M371.5,458.01h-7M45.5,442.09h5M371.5,442.09h-5M45.5,428.64h5M371.5,428.64h-5M45.5,416.98h5M371.5,416.98h-5M45.5,406.70h5M371.5,406.70h-5M45.5,397.50h7M371.5,397.50h-7M45.5,389.18h5M371.5,389.18h-5M45.5,381.58h5M371.5,381.58h-5M45.5,374.60h5M371.5,374.60h-5M45.5,368.13h5M371.5,368.13h-5M45.5,362.10h7M371.5,362.10h-7M45.5,356.47h5M371.5,356.47h-5M45.5,351.18h5M371.5,351.18h-5M45.5,346.19h5M371.5,346.19h-5M45.5,341.47h5M371.5,341.47h-5M45.5,336.99h7M371.5,336.99h-7M45.5,332.73h5M371.5,332.73h-5M45.5,328.67h5M371.5,328.67h-5M45.5,324.79h5M371.5,324.79h-5M45.5,321.07h5M371.5,321.07h-5" stroke-width="1.1"/>
</g>
<g font-family="Liberation Sans, sans-serif" fill="#000" stroke="#fff" stroke-width="0.12">
<text x="51" y="14.3" font-size="12">900 GeV ppbar</text>
<text x="367" y="14.3" font-size="12" text-anchor="end">Underlying Event</text>
<text x="41.2" y="322.00" font-size="11" text-anchor="end" clip-path="url(#c0)">0</text>
<text x="41.2" y="293.01" font-size="11" text-anchor="end">0.2</text>
<text x="41.2" y="264.03" font-size="11" text-anchor="end">0.4</text>
<text x="41.2" y="235.04" font-size="11" text-anchor="end">0.6</text>
<text x="41.2" y="206.06" font-size="11" text-anchor="end">0.8</text>
<text x="41.2" y="177.07" font-size="11" text-anchor="end">1</text>
<text x="41.2" y="148.08" font-size="11" text-anchor="end">1.2</text>
<text x="41.2" y="119.10" font-size="11" text-anchor="end">1.4</text>
<text x="41.2" y="90.11" font-size="11" text-anchor="end">1.6</text>
<text x="41.2" y="61.13" font-size="11" text-anchor="end">1.8</text>
<text x="41.2" y="32.14" font-size="11" text-anchor="end">2</text>
<text x="38.9" y="462.41" font-size="12" text-anchor="end">0.5</text>
<text x="38.9" y="401.90" font-size="12" text-anchor="end">1</text>
<text x="38.9" y="341.39" font-size="12" text-anchor="end">2</text>
<text x="373.3" y="462.31" font-size="12">0.5</text>
<text x="373.3" y="401.80" font-size="12">1</text>
<text x="373.3" y="341.29" font-size="12">2</text>
<text x="45.50" y="489" font-size="11" text-anchor="middle">0</text>
<text x="125.40" y="489" font-size="11" text-anchor="middle">5</text>
<text x="205.30" y="489" font-size="11" text-anchor="middle">10</text>
<text x="285.20" y="489" font-size="11" text-anchor="middle">15</text>
<text x="365.10" y="489" font-size="11" text-anchor="middle">20</text>
</g>
<rect x="73.70" y="59.20" width="5.60" height="5.60" fill="#000"/>
<line x1="64.3" y1="74.9" x2="88.8" y2="74.9" stroke="#ff8080" stroke-width="1.0"/>
<circle cx="76.50" cy="74.90" r="2.00" fill="#fff" stroke="#ff8080" stroke-width="1.27"/>
<line x1="64.3" y1="88.1" x2="88.8" y2="88.1" stroke="#3c9c28" stroke-width="1.0" stroke-dasharray="2.8,1.4"/>
<rect x="73.87" y="85.47" width="5.26" height="5.26" fill="#fff" stroke="#3c9c28" stroke-width="1.23"/>
<line x1="64.3" y1="101.3" x2="88.8" y2="101.3" stroke="#a50a2d" stroke-width="1.0"/>
<path d="M76.50,98.33 L79.47,103.82 L73.53,103.82 Z" fill="#fff" stroke="#a50a2d" stroke-width="1.27"/>
<line x1="64.3" y1="114.5" x2="88.8" y2="114.5" stroke="#0000f0" stroke-width="1.0"/>
<path d="M76.50,111.50 L79.50,117.05 L73.50,117.05 Z" fill="#0000f0"/>
<line x1="64.3" y1="127.4" x2="88.8" y2="127.4" stroke="#ff0000" stroke-width="1.0" stroke-dasharray="1.2,1.3"/>
<path d="M76.50,124.40 L78.80,127.40 L76.50,130.40 L74.20,127.40 Z" fill="#ff0000"/>
<g font-family="Liberation Sans, sans-serif" fill="#000" stroke="#fff" stroke-width="0.12" font-size="9.4">
<text x="93.8" y="64.8">CDF</text>
<text x="93.8" y="77.7">Epos 1.99.crmc.1.6.0 lhc</text>
<text x="93.8" y="90.9">Herwig 7.2.1 default</text>
<text x="93.8" y="104.1">Pythia 6.428 370</text>
<text x="93.8" y="117.3">Pythia 8.315 default</text>
<text x="93.8" y="130.2">Sherpa 2.2.9 default</text>
</g>
<g font-family="Liberation Sans, sans-serif" fill="#000" stroke="#fff" stroke-width="0.12">
<text x="77.8" y="42.2" font-size="12" textLength="116" lengthAdjust="spacing">{TransAVE charged p</text>
<text x="192.4" y="35.4" font-size="9.5" textLength="16.6" lengthAdjust="spacingAndGlyphs">{sum</text>
<text x="208.2" y="42.2" font-size="12">}</text>
<text x="212.6" y="48.6" font-size="9">T</text>
<text x="220.8" y="42.2" font-size="12">density</text>
<path d="M262.4,37.6 L263.6,36.8 L264.9,41.2 L265.8,32.6 H273.4" fill="none" stroke="#000" stroke-width="0.9"/><path d="M263.2,36.9 L264.2,36.6 L265.1,42.3 L264.3,42.3 Z" fill="#000"/>
<text x="266" y="42.2" font-size="12">s</text>
<text x="272" y="42.2" font-size="12" textLength="67" lengthAdjust="spacing">=900 {GeV}}</text>
</g>
<g font-family="Liberation Sans, sans-serif" fill="#000" stroke="#fff" stroke-width="0.12" transform="translate(15,187.5) rotate(-90)">
<text x="0" y="0" font-size="12" textLength="27" lengthAdjust="spacing">{(1/N</text>
<text x="27.5" y="6.4" font-size="9" textLength="19.5" lengthAdjust="spacingAndGlyphs">events</text>
<text x="47.6" y="0" font-size="12">)</text>
<text x="56.2" y="0" font-size="12.5" textLength="14.2" lengthAdjust="spacingAndGlyphs">dp</text>
<text x="70.6" y="-6.3" font-size="9.4" textLength="16" lengthAdjust="spacingAndGlyphs">{sum</text>
<text x="86.4" y="0" font-size="12">}</text>
<text x="90.2" y="5.3" font-size="9">T</text>
<text x="98.3" y="0" font-size="12" textLength="72.3" lengthAdjust="spacingAndGlyphs">/dη dϕ [GeV]}</text>
</g>
<text font-family="Liberation Sans, sans-serif" font-size="10.4" transform="translate(18.4,421.4) rotate(-90)" textLength="50" lengthAdjust="spacingAndGlyphs">Ratio to CDF</text>
<text font-family="Liberation Sans, sans-serif" font-size="10" fill="#6a6a6a" transform="translate(380.5,127) rotate(-90)" textLength="108.5" lengthAdjust="spacingAndGlyphs">Rivet 4.1.0, ≥ 500k events</text>
<text font-family="Liberation Sans, sans-serif" font-size="9.9" fill="#6a6a6a" transform="translate(381.4,313.6) rotate(-90)" textLength="147" lengthAdjust="spacingAndGlyphs">mcplots.cern.ch [arXiv:2401.10621]</text>
<text font-family="Liberation Sans, sans-serif" font-size="8" fill="#999" x="167.8" y="302" textLength="80.8" lengthAdjust="spacingAndGlyphs">(CDF_2015_I1388868)</text>
<g font-family="Liberation Sans, sans-serif" fill="#000" stroke="#fff" stroke-width="0.12">
<text x="299.3" y="503.6" font-size="11.5">{p</text>
<text x="310.2" y="496.8" font-size="9" textLength="19.6" lengthAdjust="spacingAndGlyphs">{max</text>
<text x="310.8" y="509.8" font-size="9">T</text>
<text x="328.1" y="503.6" font-size="11.5">}</text>
<text x="336.6" y="503.6" font-size="11.5" textLength="35" lengthAdjust="spacingAndGlyphs">[GeV]}</text>
</g>
</svg>
</body></html>
